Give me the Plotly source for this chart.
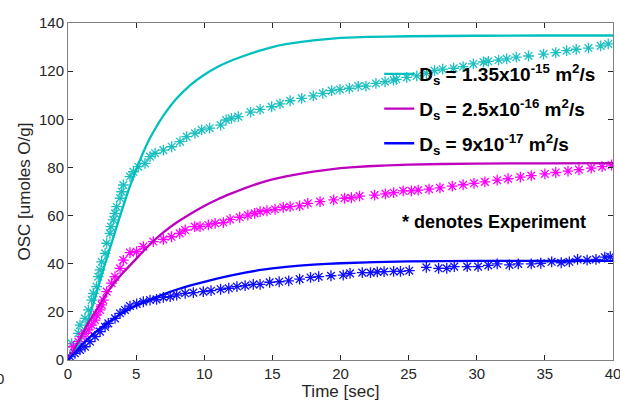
import plotly.graph_objects as go

# ---- model curves ----
t_model_c = [0, 0.5, 1, 1.5, 2, 2.5, 3, 3.5, 4, 4.5, 5, 5.5, 6, 6.5, 7, 8, 9, 10, 11, 12, 13, 14, 15, 16, 18, 20, 22, 25, 30, 35, 40]
v_model_c = [0, 3, 9.5, 17, 26, 36, 45, 54, 63, 71.5, 79, 86, 92, 97, 101.5, 108.8, 114.3, 118.5, 121.8, 124.4, 126.5, 128.4, 130, 131.2, 132.8, 133.8, 134.2, 134.5, 134.7, 134.8, 134.8]

t_model_m = [0, 0.5, 1, 1.5, 2, 3, 4, 5, 6, 7, 8, 9, 10, 11, 12, 13, 14, 15, 16, 18, 20, 22, 25, 30, 35, 40]
v_model_m = [0, 5, 10, 15.5, 20, 29, 36, 42, 48, 53, 57.2, 60.8, 64, 66.8, 69.2, 71.4, 73.4, 75.0, 76.3, 78.3, 79.7, 80.5, 81.2, 81.6, 81.7, 81.8]

t_model_b = [0, 0.5, 1, 1.5, 2, 3, 4, 5, 6, 7, 8, 9, 10, 12, 14, 16, 18, 20, 25, 30, 35, 40]
v_model_b = [0, 3, 6.2, 9, 11.5, 15.8, 19.5, 22.6, 25, 27.3, 29.3, 31, 32.5, 35.2, 37.3, 38.7, 39.6, 40.2, 41, 41.2, 41.2, 41.2]

# ---- experiment ----
t_exp_c = [0.27, 0.76, 0.88, 1.25, 1.49, 1.74, 1.86, 2.1, 2.22, 2.35, 2.47, 2.72, 2.84, 3.08, 3.15, 3.33, 3.45, 3.57,
           3.82, 3.94, 4.06, 4.55, 4.8, 5.16, 5.65, 6.02, 6.39, 7.0, 7.61, 8.22, 8.71, 9.32, 9.81, 10.4, 11.2, 11.6,
           12.0, 12.5, 13.4, 14.1, 14.95, 15.56, 16.3, 17.15, 18.0, 18.7, 19.35, 19.96, 20.65, 21.3, 21.87, 22.6,
           23.27, 23.9, 24.1, 24.86, 25.6, 26.3, 26.9, 27.5, 28.3, 29.0, 29.75, 30.5, 30.85, 31.6, 32.2, 32.9, 33.8,
           34.9, 35.8, 36.6, 37.3, 38.2, 39.1, 39.65]
v_exp_c = [6.8, 11.1, 14.5, 17.3, 20.8, 24.9, 27.7, 30.5, 34.6, 37.4, 40.8, 44.3, 48.5, 52.6, 55.4, 58.2, 60.9, 63.7,
           67.2, 69.9, 72.7, 76.2, 78.2, 80.3, 81.7, 84.5, 85.9, 87.2, 88.6, 90.7, 92.8, 94.2, 95.6, 96.3, 97.6, 99.7,
           100.4, 101.1, 103.0, 104.1, 105.2, 106.4, 107.7, 108.7, 109.7, 110.8, 111.9, 112.4, 112.9, 113.8, 113.8, 114.9,
           115.6, 116.3, 116.6, 117.4, 118.0, 119.1, 120.2, 120.8, 121.2, 121.9, 123.0, 123.8, 124.1, 124.6, 125.1, 125.8, 126.3,
           127.1, 127.7, 128.5, 129.1, 129.6, 130.5, 131.3]

t_exp_m = [0.39, 0.76, 1.0, 1.25, 1.49, 1.74, 1.98, 2.1, 2.35, 2.47, 2.59, 2.84, 3.2, 3.45, 3.82, 4.06, 4.55, 5.04,
           5.53, 6.26, 7.0, 7.6, 8.2, 8.6, 9.3, 9.69, 10.3, 10.8, 11.4, 11.9, 12.6, 13.2, 13.7, 14.1, 14.6, 15.2, 15.8,
           16.3, 17.0, 17.6, 18.5, 19.5, 20.3, 20.8, 21.4, 22.5, 23.3, 23.9, 24.6, 25.2, 25.7, 26.5, 27.3, 28.2, 29.0,
           29.8, 30.6, 31.5, 32.3, 33.2, 34.0, 35.0, 35.8, 36.7, 37.5, 38.4, 39.2, 39.9]
v_exp_m = [5.5, 7.6, 9.7, 11.1, 12.5, 14.5, 16.6, 18.7, 20.8, 22.9, 24.9, 28.4, 31.9, 34.6, 38.1, 41.5, 44.6, 45.0,
           47.1, 49.2, 50.1, 51.2, 52.6, 54.0, 55.4, 55.4, 56.1, 56.8, 57.1, 58.4, 59.3, 60.2, 60.9, 61.6, 62.0, 62.6, 63.4,
           63.7, 64.0, 65.1, 65.8, 66.5, 67.2, 67.4, 68.1, 68.5, 69.0, 69.5, 70.3, 70.3, 70.6, 71.0, 71.5, 72.2, 72.8,
           73.4, 74.0, 74.7, 75.3, 76.0, 76.6, 77.3, 77.9, 78.5, 79.1, 79.7, 80.3, 81.0]

t_exp_b = [0.15, 0.51, 0.88, 1.25, 1.61, 1.98, 2.35, 2.72, 2.96, 3.45, 3.82, 4.18, 4.55, 5.04, 5.53, 6.02, 6.5, 7.0,
           7.5, 7.98, 8.6, 9.2, 9.93, 10.5, 11.2, 11.8, 12.4, 13.0, 13.6, 14.1, 14.8, 15.5, 16.2, 17.0, 17.8, 18.4,
           19.3, 20.2, 20.7, 21.6, 22.2, 22.7, 23.2, 23.9, 24.4, 25.05, 26.3, 27.2, 27.8, 28.35, 29.3, 30.1, 30.85,
           31.5, 32.4, 33.05, 34.0, 34.7, 35.5, 36.2, 36.8, 37.4, 38.1, 38.75, 39.4, 39.8]
v_exp_b = [1.4, 2.8, 4.2, 5.5, 7.6, 9.7, 11.8, 13.8, 15.2, 17.3, 19.4, 20.8, 22.4, 23.3, 24.2, 24.9, 25.2, 26.0,
           26.3, 27.0, 27.7, 28.0, 28.4, 28.8, 29.4, 29.8, 30.5, 30.9, 31.4, 31.4, 32.3, 32.5, 32.9, 33.6, 34.3, 34.6,
           35.0, 35.3, 36.0, 36.3, 36.3, 36.6, 36.7, 36.8, 36.8, 37.1, 38.5, 38.1, 38.1, 38.8, 38.8, 38.8, 39.3,
           39.9, 39.5, 39.9, 39.9, 40.2, 40.8, 40.4, 40.8, 41.8, 41.5, 41.8, 42.7, 42.9]

x_ticks = [0, 5, 10, 15, 20, 25, 30, 35, 40]
y_ticks = [0, 20, 40, 60, 80, 100, 120, 140]

legend_names = [
    "<b>D<sub>s</sub> = 1.35x10<sup>-15</sup> m<sup>2</sup>/s</b>",
    "<b>D<sub>s</sub> = 2.5x10<sup>-16</sup> m<sup>2</sup>/s</b>",
    "<b>D<sub>s</sub> = 9x10<sup>-17</sup> m<sup>2</sup>/s</b>",
]

C_CYAN = "#00BFBF"
C_CYAN_M = "#1CC0C0"
C_MAG = "#BF00BF"
C_MAG_M = "#FF00FF"
C_BLUE = "#0000FF"
C_BLUE_M = "#1010FF"

FONT = "Liberation Sans, Arial, sans-serif"

fig = go.Figure()

def exp_trace(t, v, col):
    return go.Scatter(x=t, y=v, mode="markers", showlegend=False,
                      marker=dict(symbol="asterisk-open", size=9, color=col,
                                  line=dict(color=col, width=1.3)))

fig.add_trace(exp_trace(t_exp_c, v_exp_c, C_CYAN_M))
fig.add_trace(exp_trace(t_exp_m, v_exp_m, C_MAG_M))
fig.add_trace(exp_trace(t_exp_b, v_exp_b, C_BLUE_M))

for i, (t, v, col, name) in enumerate([(t_model_c, v_model_c, C_CYAN, legend_names[0]),
                                        (t_model_m, v_model_m, C_MAG, legend_names[1]),
                                        (t_model_b, v_model_b, C_BLUE, legend_names[2])]):
    fig.add_trace(go.Scatter(x=t, y=v, mode="lines", name=name, legendgroup="g%d" % i,
                             line=dict(color=col, width=2.3, shape="spline", smoothing=0.3)))

axis_common = dict(
    showgrid=False, zeroline=False, showline=True, linecolor="#808080", linewidth=1,
    mirror="ticks", ticks="inside", ticklen=5, tickcolor="#262626", tickwidth=1,
    tickfont=dict(family=FONT, size=15, color="#262626"),
    automargin=False, ticklabeloverflow="allow",
)

fig.update_layout(
    width=620, height=403,
    margin=dict(l=68, r=7, t=23, b=43),
    paper_bgcolor="white", plot_bgcolor="white",
    xaxis=dict(range=[0, 40.001], tickvals=x_ticks,
               title=dict(text="Time [sec]", font=dict(family=FONT, size=17, color="#262626"),
                          standoff=0),
               **axis_common),
    yaxis=dict(range=[0, 140.001], tickvals=y_ticks,
               title=dict(text="OSC [umoles O/g]", font=dict(family=FONT, size=17, color="#262626"),
                          standoff=4),
               **axis_common),
    legend=dict(x=0.571, y=0.905, xanchor="left", yanchor="top", bgcolor="rgba(0,0,0,0)",
                font=dict(family=FONT, size=19, color="black"),
                itemwidth=30, traceorder="grouped", tracegroupgap=7),
    showlegend=True,
    annotations=[
        dict(x=31.3, y=57.3, xref="x", yref="y", text="<b>* denotes Experiment</b>", showarrow=False,
             font=dict(family=FONT, size=18, color="black")),
        dict(x=-0.135, y=-0.086, xref="paper", yref="paper", text="0", showarrow=False,
             font=dict(family=FONT, size=15, color="#262626")),
    ],
)

fig.write_html("out.html", config={"displayModeBar": False},
               post_script="document.body.style.margin='0px';")
